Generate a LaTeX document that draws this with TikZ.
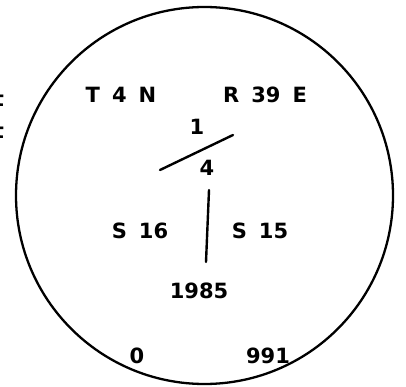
\documentclass[tikz,border=0pt]{standalone}
\usepackage{fontspec}
\setmainfont{DejaVu Sans}
\newcommand\lblfont{\fontsize{21}{23}\selectfont\bfseries\spaceskip 12pt\relax}
\begin{document}
\begin{tikzpicture}[x=1pt,y=-1pt,
  lbl/.style={inner sep=0pt,font=\lblfont},
  ln/.style={line width=2.4pt,line cap=round}]
\useasboundingbox (0,0) rectangle (406,387);
\node[draw,circle,line width=2.3pt,minimum size=377pt,inner sep=0pt] (c) at (204.5,195.5) {};
\node[lbl,anchor=base] (t1) at (-1,107) {t};
\node[lbl,anchor=base] (t2) at (-1,139) {t};
\node[lbl] (tn) at (121,95) {T 4 N};
\node[lbl] (re) at (265,95) {R 39 E};
\node[lbl] (one) at (197,127) {1};
\node[lbl] (four) at (207,168) {4};
\coordinate (sa) at (160,170);
\coordinate (sb) at (233,135);
\draw[ln] (sa) -- (sb);
\coordinate (va) at (209,190);
\coordinate (vb) at (206,262);
\draw[ln] (va) -- (vb);
\node[lbl] (s16) at (140,231) {S 16};
\node[lbl] (s15) at (260,231) {S 15};
\node[lbl] (yr) at (199,291) {1985};
\node[lbl] (zero) at (137,356) {0};
\node[lbl] (n991) at (268,356) {991};
\end{tikzpicture}
\end{document}
